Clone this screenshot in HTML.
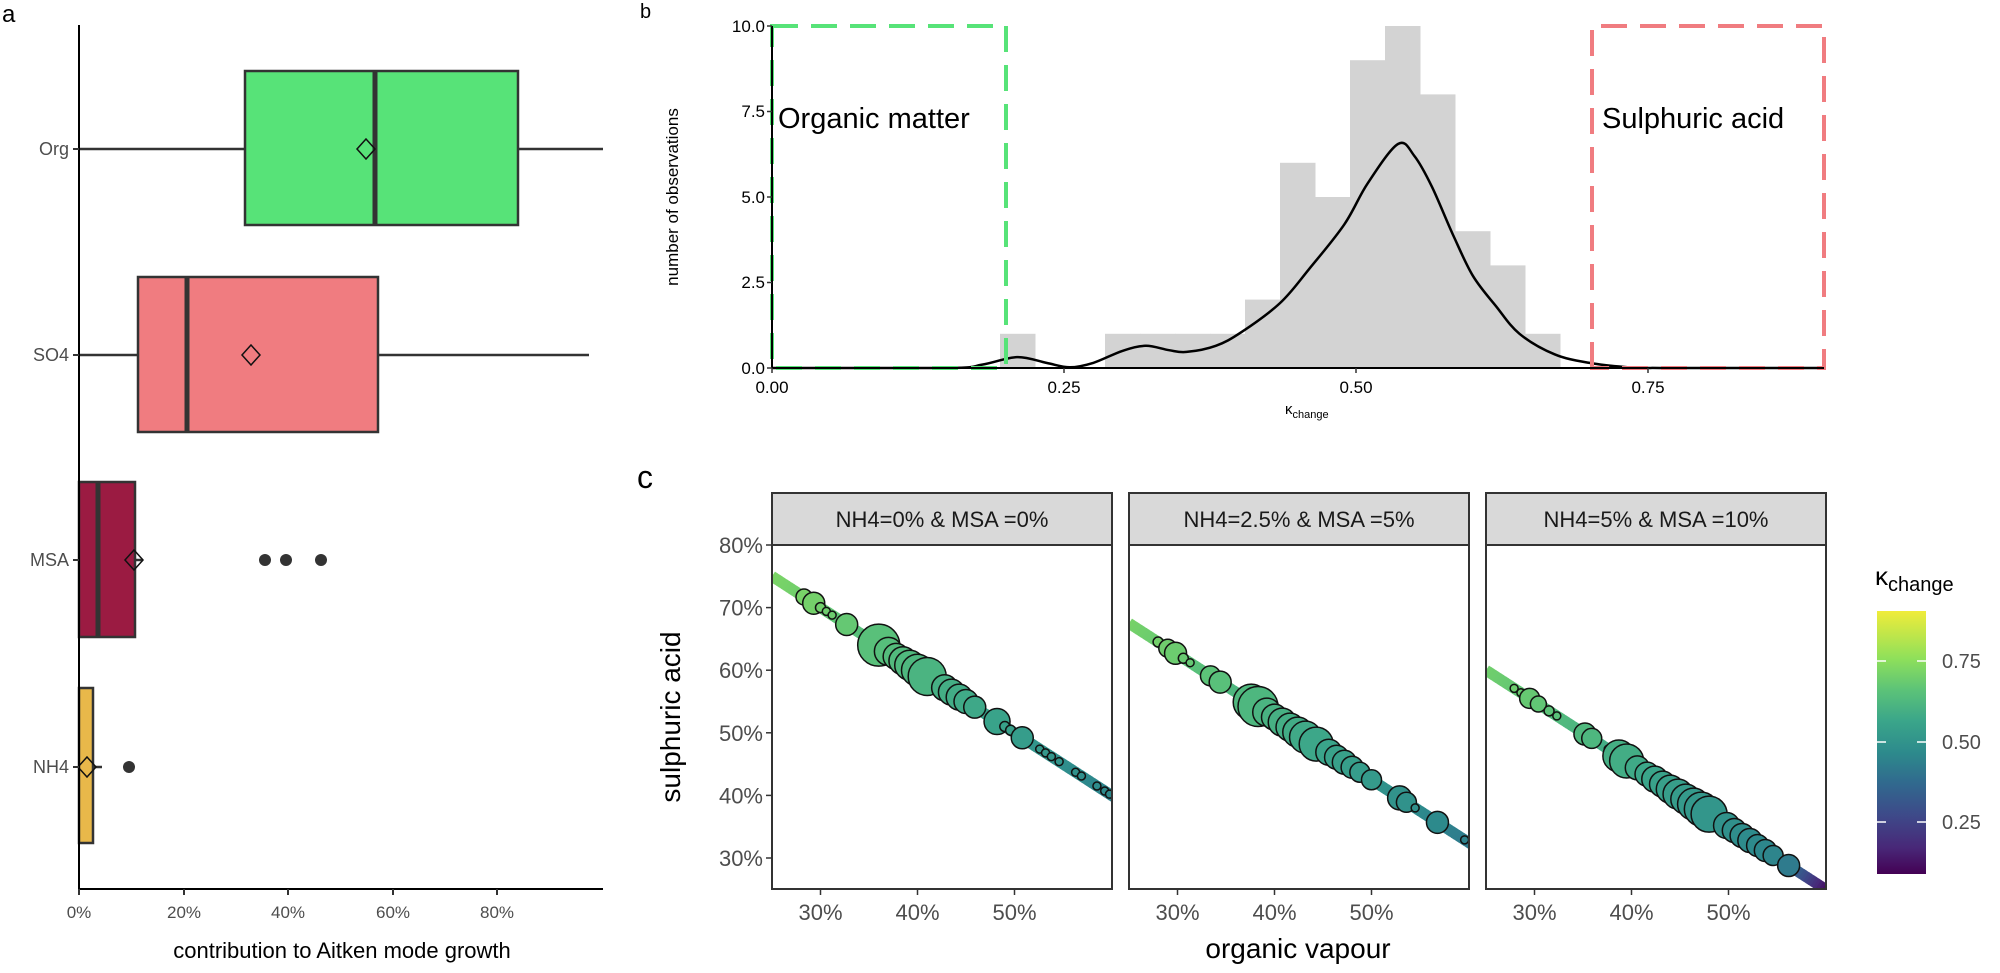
<!DOCTYPE html>
<html><head><meta charset="utf-8"><style>
html,body{margin:0;padding:0;background:#fff;}
svg{display:block;font-family:"Liberation Sans",Arial,sans-serif;}
</style></head><body>
<svg id="s" width="2000" height="973" viewBox="0 0 2000 973" xmlns="http://www.w3.org/2000/svg">
<defs>
<linearGradient id="cb" x1="0" y1="1" x2="0" y2="0">
<stop offset="0" stop-color="#440154"/><stop offset="0.1" stop-color="#482878"/><stop offset="0.22" stop-color="#3e4989"/><stop offset="0.34" stop-color="#31688e"/><stop offset="0.46" stop-color="#2d8a8c"/><stop offset="0.58" stop-color="#3aa58a"/><stop offset="0.7" stop-color="#5cc378"/><stop offset="0.82" stop-color="#8fe05a"/><stop offset="1" stop-color="#f0ec3a"/>
</linearGradient>
</defs>
<!-- panel a -->
<text x="2" y="22" font-size="24">a</text>
<g stroke="#333" stroke-width="2.5" fill="none">
<line x1="79" y1="149" x2="603" y2="149"/>
<line x1="79" y1="355" x2="589" y2="355"/>
<line x1="79" y1="560" x2="143" y2="560"/>
<line x1="79" y1="767" x2="102" y2="767"/>
</g>
<rect x="245" y="71" width="273" height="154" fill="#57e378" stroke="#333" stroke-width="2.5"/>
<line x1="375" y1="71" x2="375" y2="225" stroke="#333" stroke-width="5"/>
<rect x="138" y="277" width="240" height="155" fill="#f07c80" stroke="#333" stroke-width="2.5"/>
<line x1="187" y1="277" x2="187" y2="432" stroke="#333" stroke-width="5"/>
<rect x="79" y="482" width="56" height="155" fill="#9b1b42" stroke="#333" stroke-width="2.5"/>
<line x1="98" y1="482" x2="98" y2="637" stroke="#333" stroke-width="5"/>
<rect x="79" y="688" width="14" height="155" fill="#e8b84a" stroke="#333" stroke-width="2.5"/>
<g fill="#333"><circle cx="265" cy="560" r="6"/><circle cx="286" cy="560" r="6"/><circle cx="321" cy="560" r="6"/><circle cx="129" cy="767" r="6"/></g>
<g fill="none" stroke="#111" stroke-width="1.5">
<path d="M366 139 l9 10 l-9 10 l-9 -10z"/><path d="M251 345 l9 10 l-9 10 l-9 -10z"/>
<path d="M134 550 l9 10 l-9 10 l-9 -10z"/><path d="M87 757 l9 10 l-9 10 l-9 -10z"/>
</g>
<g stroke="#000" stroke-width="2"><line x1="79" y1="25" x2="79" y2="889"/><line x1="79" y1="889" x2="603" y2="889"/></g>
<g stroke="#333" stroke-width="2">
<line x1="73" y1="149" x2="79" y2="149"/><line x1="73" y1="355" x2="79" y2="355"/><line x1="73" y1="560" x2="79" y2="560"/><line x1="73" y1="767" x2="79" y2="767"/>
<line x1="79" y1="889" x2="79" y2="895"/><line x1="184" y1="889" x2="184" y2="895"/><line x1="288" y1="889" x2="288" y2="895"/><line x1="393" y1="889" x2="393" y2="895"/><line x1="497" y1="889" x2="497" y2="895"/>
</g>
<g font-size="18" fill="#4d4d4d" text-anchor="end">
<text x="69" y="155">Org</text><text x="69" y="361">SO4</text><text x="69" y="566">MSA</text><text x="69" y="773">NH4</text>
</g>
<g font-size="17" fill="#4d4d4d" text-anchor="middle">
<text x="79" y="918">0%</text><text x="184" y="918">20%</text><text x="288" y="918">40%</text><text x="393" y="918">60%</text><text x="497" y="918">80%</text>
</g>
<text x="342" y="958" font-size="22" text-anchor="middle">contribution to Aitken mode growth</text>

<!-- panel b -->
<text x="640" y="18" font-size="20">b</text>
<g id="hist" fill="#d3d3d3"></g>
<path id="dens" fill="none" stroke="#000" stroke-width="2.5"/>
<g fill="none" stroke-width="4" stroke-dasharray="26,13">
<path d="M772 26 H1006 V368 H772 Z" stroke="#57e378"/>
<path d="M1592 368 V26 H1824 V368 Z" stroke="#f07c80"/>
</g>
<g stroke="#000" stroke-width="2"><line x1="772" y1="26" x2="772" y2="368"/><line x1="772" y1="368" x2="1824" y2="368"/></g>
<g stroke="#333" stroke-width="1.5">
<line x1="767" y1="26" x2="772" y2="26"/><line x1="767" y1="111.5" x2="772" y2="111.5"/><line x1="767" y1="197" x2="772" y2="197"/><line x1="767" y1="282.5" x2="772" y2="282.5"/><line x1="767" y1="368" x2="772" y2="368"/>
<line x1="772" y1="368" x2="772" y2="373"/><line x1="1064" y1="368" x2="1064" y2="373"/><line x1="1356" y1="368" x2="1356" y2="373"/><line x1="1648" y1="368" x2="1648" y2="373"/>
</g>
<g font-size="17" fill="#000" text-anchor="end">
<text x="765" y="32">10.0</text><text x="765" y="117">7.5</text><text x="765" y="203">5.0</text><text x="765" y="288">2.5</text><text x="765" y="374">0.0</text>
</g>
<g font-size="17" fill="#000" text-anchor="middle">
<text x="772" y="393">0.00</text><text x="1064" y="393">0.25</text><text x="1356" y="393">0.50</text><text x="1648" y="393">0.75</text>
</g>
<text transform="translate(678,197) rotate(-90)" font-size="17" text-anchor="middle">number of observations</text>
<text x="1285" y="414" font-size="15">κ<tspan font-size="11" dy="4">change</tspan></text>
<text x="778" y="128" font-size="29">Organic matter</text>
<text x="1602" y="128" font-size="29">Sulphuric acid</text>

<!-- panel c -->
<text x="637" y="488" font-size="32">c</text>
<g id="pc"></g>
<text transform="translate(680,717) rotate(-90)" font-size="28" text-anchor="middle">sulphuric acid</text>
<text x="1298" y="958" font-size="28" text-anchor="middle">organic vapour</text>
<text x="1875" y="585" font-size="26">κ<tspan font-size="20" dy="6">change</tspan></text>
<rect x="1877" y="611" width="49" height="263" fill="url(#cb)"/>
<g stroke="#fff" stroke-width="1.5">
<line x1="1877" y1="661" x2="1886" y2="661"/><line x1="1917" y1="661" x2="1926" y2="661"/>
<line x1="1877" y1="742" x2="1886" y2="742"/><line x1="1917" y1="742" x2="1926" y2="742"/>
<line x1="1877" y1="822" x2="1886" y2="822"/><line x1="1917" y1="822" x2="1926" y2="822"/>
</g>
<g font-size="20" fill="#4d4d4d">
<text x="1942" y="668">0.75</text><text x="1942" y="749">0.50</text><text x="1942" y="829">0.25</text>
</g>
</svg>
<script>
var NS="http://www.w3.org/2000/svg";
function el(p,t,a,txt){var e=document.createElementNS(NS,t);for(var k in a)e.setAttribute(k,a[k]);if(txt!=null)e.textContent=txt;p.appendChild(e);return e;}
var H=document.getElementById("hist");
var bins=[[1000,1],[1105,1],[1140,1],[1175,1],[1210,1],[1245,2],[1280,6],[1315,5],[1350,9],[1385,10],[1420,8],[1455,4],[1490,3],[1525,1]];
bins.forEach(function(b){var h=b[1]*34.2;el(H,"rect",{x:b[0],y:368-h,width:35.5,height:h});});
var pts=[[0,0],[0.15,0],[0.18,0.1],[0.21,0.32],[0.235,0.15],[0.255,0.02],[0.275,0.15],[0.3,0.5],[0.32,0.65],[0.34,0.52],[0.355,0.47],[0.38,0.65],[0.402,1.05],[0.435,1.9],[0.46,2.9],[0.49,4.2],[0.51,5.4],[0.536,6.55],[0.55,6.2],[0.565,5.3],[0.583,3.9],[0.6,2.7],[0.62,1.8],[0.64,1.0],[0.67,0.4],[0.7,0.15],[0.73,0.03],[0.76,0],[0.9,0]];
var P2=pts.map(function(p){return [772+p[0]*1168,368-p[1]*34.2];});
var d="M"+P2[0][0]+" "+P2[0][1];
for(var i=0;i<P2.length-1;i++){var p0=P2[Math.max(0,i-1)],p1=P2[i],p2=P2[i+1],p3=P2[Math.min(P2.length-1,i+2)];
 var c1=[p1[0]+(p2[0]-p0[0])/6,p1[1]+(p2[1]-p0[1])/6],c2=[p2[0]-(p3[0]-p1[0])/6,p2[1]-(p3[1]-p1[1])/6];
 c1[1]=Math.min(c1[1],368);c2[1]=Math.min(c2[1],368);
 d+="C"+c1[0].toFixed(1)+" "+c1[1].toFixed(1)+" "+c2[0].toFixed(1)+" "+c2[1].toFixed(1)+" "+p2[0].toFixed(1)+" "+p2[1].toFixed(1);}
document.getElementById("dens").setAttribute("d",d);
var V=[[0,[68,1,84]],[0.1,[72,40,120]],[0.22,[62,73,137]],[0.34,[49,104,142]],[0.46,[45,138,140]],[0.58,[58,165,138]],[0.7,[92,195,120]],[0.82,[143,224,90]],[1,[240,236,58]]];
function vir(k){var t=(k-0.09)/(0.905-0.09);t=Math.max(0,Math.min(1,t));for(var i=1;i<V.length;i++){if(t<=V[i][0]){var a=V[i-1],b=V[i],f=(t-a[0])/(b[0]-a[0]);return "rgb("+[0,1,2].map(function(j){return Math.round(a[1][j]+f*(b[1][j]-a[1][j]))}).join(",")+")";}}return "rgb(240,236,58)";}
var G=document.getElementById("pc");
var panels=[{x:772,sum:100,k0:0.72,k1:0.44,e:0,lab:"NH4=0% & MSA =0%",c:[[28.3,8],[29.3,11],[30.0,5],[30.6,4],[31.2,4],[32.7,11],[36.0,21],[37.0,14],[37.8,13],[38.5,14],[39.2,15],[40.0,16],[41.0,19],[42.8,13],[43.5,13],[44.3,13],[45.0,12],[45.9,11],[48.2,13],[49.0,5],[49.6,5],[50.8,11],[52.6,4],[53.2,4],[53.8,4],[54.6,4],[56.3,4],[56.9,4],[58.5,4],[59.3,4],[59.8,4]]},
{x:1129,sum:92.5,k0:0.71,k1:0.42,e:0,lab:"NH4=2.5% & MSA =5%",c:[[28.0,5],[29.0,9],[29.8,11],[30.6,5],[31.3,4],[33.4,10],[34.4,11],[37.6,18],[38.3,20],[39.2,14],[40.0,13],[40.8,14],[41.6,14],[42.4,15],[43.2,16],[44.3,17],[45.6,13],[46.4,12],[47.2,12],[48.0,11],[48.8,10],[50.0,10],[52.9,12],[53.6,10],[54.5,4],[56.8,11],[59.6,4]]},
{x:1486,sum:85,k0:0.70,k1:0.38,e:1,lab:"NH4=5% & MSA =10%",c:[[27.9,4],[28.6,4],[29.5,10],[30.4,8],[31.5,5],[32.3,4],[35.2,11],[35.9,10],[37.6,4],[38.7,16],[39.5,17],[40.6,12],[41.6,12],[42.4,13],[43.2,13],[44.0,14],[44.8,15],[45.6,15],[46.4,16],[47.2,17],[48.0,18],[49.8,13],[50.6,12],[51.4,12],[52.2,12],[53.0,11],[53.8,11],[54.6,10],[56.2,11]]}];
panels.forEach(function(P){
 var X=function(o){return P.x+(o-25)*9.7;},Y=function(s){return 545+(80-s)*6.26;};
 var K=function(o){var k=P.k0+(o-25)/35*(P.k1-P.k0);if(P.e&&o>56)k-=(o-56)*0.07;return k;};
 var cp=el(G,"clipPath",{id:"c"+P.x});el(cp,"rect",{x:P.x,y:545,width:340,height:344});
 var g=el(G,"g",{"clip-path":"url(#c"+P.x+")"});
 for(var o=25;o<60.2;o+=0.25){el(g,"line",{x1:X(o),y1:Y(P.sum-o),x2:X(o+0.3),y2:Y(P.sum-o-0.3),stroke:vir(K(o)),"stroke-width":11});}
 P.c.forEach(function(c){el(g,"circle",{cx:X(c[0]),cy:Y(P.sum-c[0]),r:c[1],fill:vir(K(c[0])+0.02),stroke:"#111","stroke-width":1.5});});
 el(G,"rect",{x:P.x,y:493,width:340,height:52,fill:"#d9d9d9",stroke:"#333","stroke-width":2});
 el(G,"text",{x:P.x+170,y:527,"font-size":22,"text-anchor":"middle",fill:"#1a1a1a"},P.lab);
 el(G,"rect",{x:P.x,y:545,width:340,height:344,fill:"none",stroke:"#333","stroke-width":2});
 [30,40,50].forEach(function(v){var xx=X(v);el(G,"line",{x1:xx,y1:889,x2:xx,y2:895,stroke:"#333","stroke-width":1.5});el(G,"text",{x:xx,y:920,"font-size":22,"text-anchor":"middle",fill:"#4d4d4d"},v+"%");});
});
[80,70,60,50,40,30].forEach(function(v){var yy=545+(80-v)*6.26;el(G,"line",{x1:766,y1:yy,x2:772,y2:yy,stroke:"#333","stroke-width":1.5});el(G,"text",{x:763,y:yy+8,"font-size":22,"text-anchor":"end",fill:"#4d4d4d"},v+"%");});
</script>
</body></html>
